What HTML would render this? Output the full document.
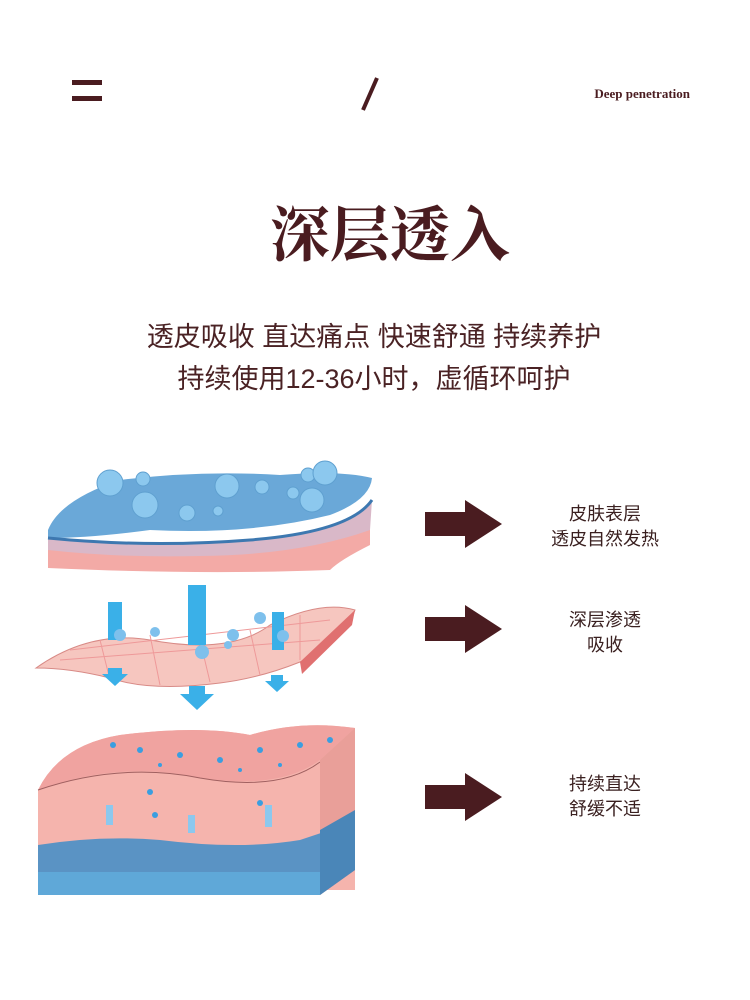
<!DOCTYPE html>
<html><head><meta charset="utf-8"><style>
body{margin:0;width:750px;height:1000px;background:#fff;position:relative;overflow:hidden;font-family:"Liberation Sans","Noto Sans CJK SC",sans-serif}
.a{position:absolute}
.t{color:#4a1c20}
.lbl{position:absolute;width:140px;left:535px;text-align:center;font-size:18px;line-height:25px;color:#3a2020}
</style></head><body>
<div class="a" style="left:72px;top:80px;width:30px;height:5px;background:#4a1c20"></div>
<div class="a" style="left:72px;top:96px;width:30px;height:5px;background:#4a1c20"></div>
<svg class="a" style="left:355px;top:75px" width="30" height="40"><line x1="22" y1="3" x2="8" y2="35" stroke="#4a1c20" stroke-width="4"/></svg>
<div class="a t" style="left:560px;top:86px;width:130px;text-align:right;font-family:'Liberation Serif',serif;font-size:13px;font-weight:bold">Deep penetration</div>
<div class="a t" style="left:0;top:196px;width:780px;text-align:center;font-family:'Liberation Serif','Noto Serif CJK SC',serif;font-weight:bold;font-size:60px;line-height:80px">深层透入</div>
<div class="a" style="left:0;top:316px;width:748px;text-align:center;font-size:27px;line-height:42px;color:#4a2224">透皮吸收 直达痛点 快速舒通 持续养护<br>持续使用12-36小时，虚循环呵护</div>
<svg class="a" style="left:0;top:0" width="750" height="1000">
<!-- top layer -->
<path d="M48 545 Q150 558 250 550 T370 525 L370 545 Q340 560 330 570 Q200 575 48 568 Z" fill="#f3aaa6"/>
<path d="M48 538 Q150 550 250 540 T372 500 L370 530 Q300 555 200 556 Q120 558 48 550 Z" fill="#d9b8c8"/>
<path d="M48 530 Q60 500 120 480 Q200 470 280 475 Q340 470 372 478 Q370 500 330 515 Q250 535 150 530 Q90 538 48 538 Z" fill="#6aa8d8"/>
<path d="M48 538 Q150 548 250 540 T372 500" stroke="#3d78b0" stroke-width="3" fill="none"/>
<g fill="#8cc8ee" stroke="#5fa0d0">
<circle cx="110" cy="483" r="13"/><circle cx="143" cy="479" r="7"/><circle cx="145" cy="505" r="13"/><circle cx="227" cy="486" r="12"/><circle cx="262" cy="487" r="7"/><circle cx="308" cy="475" r="7"/><circle cx="325" cy="473" r="12"/><circle cx="312" cy="500" r="12"/><circle cx="187" cy="513" r="8"/><circle cx="218" cy="511" r="5"/><circle cx="293" cy="493" r="6"/></g>
<!-- middle layer -->
<path d="M36 668 Q90 630 150 640 Q230 655 270 625 Q320 600 355 610 Q345 640 300 662 Q260 678 220 683 Q150 692 110 678 Q70 668 36 668 Z" fill="#f6c6bf" stroke="#d88a86"/>
<path d="M300 662 L355 610 L352 625 L302 674 Z" fill="#e07070"/>
<g stroke="#e99" stroke-width="1" fill="none"><path d="M70 650 L330 620 M60 660 L320 640 M100 640 L110 680 M150 635 L160 685 M200 640 L210 682 M250 630 L260 675 M300 615 L300 660"/></g>
<g fill="#3ab0e8"><rect x="108" y="602" width="14" height="38"/><rect x="188" y="585" width="18" height="60"/><rect x="272" y="612" width="12" height="38"/>
<path d="M108 668 h14 v6 h6 l-13 12 l-13 -12 h6z"/><path d="M189 686 h16 v8 h9 l-17 16 l-17 -16 h9z"/><path d="M271 675 h12 v6 h6 l-12 11 l-12 -11 h6z"/></g>
<g fill="#7ec0ec"><circle cx="120" cy="635" r="6"/><circle cx="155" cy="632" r="5"/><circle cx="233" cy="635" r="6"/><circle cx="202" cy="652" r="7"/><circle cx="260" cy="618" r="6"/><circle cx="283" cy="636" r="6"/><circle cx="228" cy="645" r="4"/></g>
<!-- bottom block -->
<path d="M38 790 Q60 745 120 735 Q200 725 250 735 Q300 720 355 728 L355 890 L38 890 Z" fill="#f5b4ad"/>
<path d="M38 790 Q120 760 200 778 Q280 790 320 760 L355 728 Q300 720 250 735 Q200 725 120 735 Q60 745 38 790Z" fill="#f0a3a0"/>
<path d="M38 790 Q120 762 200 778 Q280 792 320 762" stroke="#a06060" fill="none"/>
<path d="M38 845 Q100 835 160 840 Q240 850 300 840 L330 830 L355 815 L355 870 L320 895 L38 895 Z" fill="#5a93c4"/>
<path d="M38 872 L320 872 L320 895 L38 895 Z" fill="#5fa8d8"/>
<path d="M320 760 L355 728 L355 870 L320 895 Z" fill="#e69a94" opacity=".8"/>
<path d="M320 830 L355 810 L355 870 L320 895 Z" fill="#4a86b8"/>
<g fill="#8cc8ee"><rect x="106" y="805" width="7" height="20"/><rect x="188" y="815" width="7" height="18"/><rect x="265" y="805" width="7" height="22"/></g>
<g fill="#3a9ee0"><circle cx="113" cy="745" r="3"/><circle cx="140" cy="750" r="3"/><circle cx="180" cy="755" r="3"/><circle cx="220" cy="760" r="3"/><circle cx="260" cy="750" r="3"/><circle cx="300" cy="745" r="3"/><circle cx="330" cy="740" r="3"/><circle cx="160" cy="765" r="2"/><circle cx="240" cy="770" r="2"/><circle cx="280" cy="765" r="2"/><circle cx="150" cy="792" r="3"/><circle cx="155" cy="815" r="3"/><circle cx="260" cy="803" r="3"/></g>
<!-- arrows -->
<g fill="#4a1c20"><path d="M425 512 h40 v-12 l37 24 l-37 24 v-12 h-40z"/><path d="M425 617 h40 v-12 l37 24 l-37 24 v-12 h-40z"/><path d="M425 785 h40 v-12 l37 24 l-37 24 v-12 h-40z"/></g>
</svg>
<div class="lbl" style="top:502px">皮肤表层<br>透皮自然发热</div>
<div class="lbl" style="top:608px">深层渗透<br>吸收</div>
<div class="lbl" style="top:772px">持续直达<br>舒缓不适</div>
</body></html>
